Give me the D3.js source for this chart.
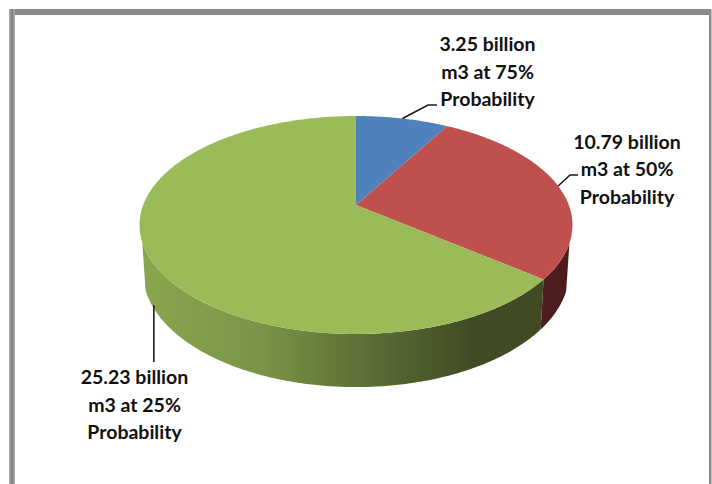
<!DOCTYPE html>
<html>
<head>
<meta charset="utf-8">
<script src="https://cdn.jsdelivr.net/npm/d3@7"></script>
<style>
  html, body { margin: 0; padding: 0; background: #fff; }
  svg { display: block; }
  text { font-family: Lato, "Open Sans", sans-serif; font-weight: 700; fill: #111; font-size: 19.5px; }
</style>
</head>
<body>
<div id="chart"></div>
<script>
// Gas volumes by probability, in billion m3.
const volumes = [3.25, 10.79, 25.23];
const probabilities = ["75%", "50%", "25%"];
const topColors = ["#4f81bd", "#c0504d", "#9bbb59"];

const width = 712, height = 484;
const svg = d3.select("#chart").append("svg")
  .attr("width", width).attr("height", height);

// Perspective projection of a unit circle: the disc's far side is foreshortened.
const project = (o) => (a) => {
  const u = Math.sin(a), v = -Math.cos(a), w = 1 + o.k * v;
  return [o.cx + o.r * u / w, o.cy + o.b * v / w];
};
const upperDisc = { cx: 356, cy: 205, r: 212.8, b: 105.33, k: -0.1835 };
const lowerDisc = { cx: 356, cy: 251, r: 209.5, b: 111.1, k: -0.1835 };
const upperRim = project(upperDisc);
const lowerRim = project(lowerDisc);

const arcs = d3.pie().sort(null).value(d => d)(volumes);
const sample = (start, end) => {
  const n = Math.max(2, Math.ceil((end - start) / 0.01));
  return d3.range(n + 1).map(i => start + (end - start) * i / n);
};
const line = d3.line();
const midAngle = a => (a.startAngle + a.endAngle) / 2;

// Frame around the chart area, open at the bottom.
const frame = svg.append("g");
frame.append("rect").attr("x", 9).attr("y", 9).attr("width", 702).attr("height", 6).attr("fill", "#8b8b8b");
frame.append("rect").attr("x", 9).attr("y", 9).attr("width", 6).attr("height", height - 9).attr("fill", "#a9a9a9");
frame.append("rect").attr("x", 10.5).attr("y", 9).attr("width", 3).attr("height", height - 9).attr("fill", "#858585");
frame.append("rect").attr("x", 709).attr("y", 9).attr("width", 2.5).attr("height", height - 9).attr("fill", "#8b8b8b");

// Wall shading runs left to right across the cylinder.
const defs = svg.append("defs");
const wallStops = [
  { id: "wall-green", stops: [[0, "#89a64e"], [0.27, "#7b9548"], [0.5, "#5f7236"], [0.77, "#404b24"], [1, "#3f4a23"]], x1: 140, x2: 573 },
  { id: "wall-red", stops: [[0, "#4f1f1f"], [1, "#4c1b1b"]], x1: 540, x2: 573 },
];
wallStops.forEach(g => {
  const grad = defs.append("linearGradient").attr("id", g.id)
    .attr("gradientUnits", "userSpaceOnUse")
    .attr("x1", g.x1).attr("x2", g.x2).attr("y1", 0).attr("y2", 0);
  g.stops.forEach(s => grad.append("stop").attr("offset", s[0]).attr("stop-color", s[1]));
});

// Side walls of the red and green slices: one path of thin quads between the
// rims, kept to the near part of the disc where the wall shows below the top face.
const wallStartY = 242;
const wallFill = [null, "url(#wall-red)", "url(#wall-green)"];
const walls = svg.append("g");
[2, 1].forEach(i => {
  const a = arcs[i];
  const d = d3.pairs(sample(a.startAngle, a.endAngle))
    .filter(([p, q]) => upperRim(p)[1] >= wallStartY && upperRim(q)[1] >= wallStartY)
    .map(([p, q]) => line([upperRim(p), upperRim(q), lowerRim(q), lowerRim(p)]) + "Z")
    .join("");
  walls.append("path").attr("d", d).attr("fill", wallFill[i]);
});

// Top faces of the slices, meeting at the projected centre.
const faces = svg.append("g");
arcs.forEach((a, i) => {
  const pts = sample(a.startAngle, a.endAngle).map(upperRim);
  faces.append("path").attr("d", line([[upperDisc.cx, upperDisc.cy], ...pts]) + "Z").attr("fill", topColors[i]);
});

// Leader lines start at the middle of each slice's rim; the lowest drops straight down.
const greenAnchor = lowerRim(midAngle(arcs[2]));
const leaders = [
  [upperRim(midAngle(arcs[0])), [428, 105], [437, 105]],
  [upperRim(midAngle(arcs[1])), [570, 175], [578, 175]],
  [[greenAnchor[0] + 3, greenAnchor[1] + 2], [greenAnchor[0] + 3, 362]],
];
leaders.forEach(pts => {
  svg.append("path").attr("d", line(pts))
    .attr("fill", "none").attr("stroke", "#1a1a1a").attr("stroke-width", 1.6);
});

// Three-line labels stating each slice's value.
const labelAnchors = [[487.5, 51], [627, 148.5], [134.5, 384]];
const lineStep = 27.5;
volumes.forEach((v, i) => {
  const [x, y] = labelAnchors[i];
  const t = svg.append("text").attr("text-anchor", "middle");
  [`${v} billion`, `m3 at ${probabilities[i]}`, "Probability"].forEach((s, j) => {
    t.append("tspan").attr("x", x).attr("y", y + j * lineStep).text(s);
  });
});
</script>
</body>
</html>
